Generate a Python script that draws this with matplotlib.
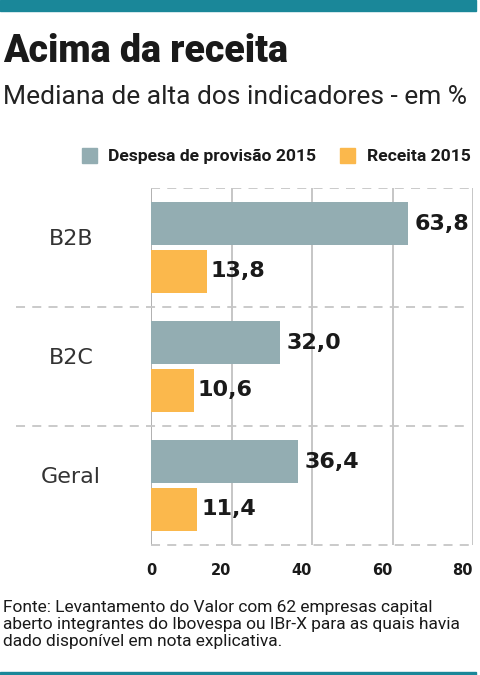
import matplotlib
matplotlib.use("Agg")
import matplotlib.pyplot as plt
import matplotlib.transforms as mtransforms
from matplotlib.patches import Rectangle

categories = ["B2B", "B2C", "Geral"]
despesa = [63.8, 32.0, 36.4]
receita = [13.8, 10.6, 11.4]
series_names = ["Despesa de provisão 2015", "Receita 2015"]
xticks = [0, 20, 40, 60, 80]

title = "Acima da receita"
subtitle = "Mediana de alta dos indicadores - em %"
source = ("Fonte: Levantamento do Valor com 62 empresas capital\n"
          "aberto integrantes do Ibovespa ou IBr-X para as quais havia\n"
          "dado disponível em nota explicativa.")

GREY = "#93adb2"
ORANGE = "#fbb84c"
TEAL = "#1a8799"
GRID = "#c6c6c6"
TXT = "#1a1a1a"
ROBOTO = ["Roboto", "DejaVu Sans"]
DJ = ["DejaVu Sans"]

W, H = 481, 675
fig = plt.figure(figsize=(W / 100, H / 100), dpi=100)

def fx(px):
    return px / W

def fy(py):
    return 1 - py / H

# teal bars
fig.patches.append(Rectangle((0, fy(11)), fx(476), 11 / H, transform=fig.transFigure,
                             color=TEAL, zorder=0))
fig.patches.append(Rectangle((0, 0), fx(476), 3 / H, transform=fig.transFigure,
                             color=TEAL, zorder=0))

fig.text(fx(3), fy(62), title, fontsize=27, fontweight="black", family=ROBOTO,
         color=TXT, va="baseline", ha="left")
fig.text(fx(3), fy(104), subtitle, fontsize=19, fontweight="normal", family=ROBOTO,
         color="#222222", va="baseline", ha="left")

# legend
legend_items = [(82, GREY, 108, series_names[0]), (340, ORANGE, 367, series_names[1])]
for sx, col, tx, lab in legend_items:
    fig.patches.append(Rectangle((fx(sx), fy(163)), 15 / W, 15 / H, transform=fig.transFigure,
                                 color=col))
    fig.text(fx(tx), fy(161), lab, fontsize=12.6, fontweight="bold", family=ROBOTO,
             color=TXT, va="baseline", ha="left")

# axes
left, right, top, bottom = 151, 473, 188, 545
ax = fig.add_axes([fx(left), fy(bottom), (right - left) / W, (bottom - top) / H])
ax.set_xlim(0, 80)
ax.set_ylim(2.5, -0.5)
for s in ax.spines.values():
    s.set_visible(False)

ypos = list(range(len(categories)))
bh = 0.36
off = 0.2
ax.barh([y - off for y in ypos], despesa, height=bh, color=GREY, zorder=3)
ax.barh([y + off for y in ypos], receita, height=bh, color=ORANGE, zorder=3)

for y, v in zip(ypos, despesa):
    ax.annotate(f"{v:.1f}".replace(".", ","), (v, y - off), xytext=(5, 0),
                textcoords="offset points", va="center", ha="left", fontsize=16,
                fontweight="bold", family=DJ, color=TXT, zorder=4)
for y, v in zip(ypos, receita):
    ax.annotate(f"{v:.1f}".replace(".", ","), (v, y + off), xytext=(3, 0),
                textcoords="offset points", va="center", ha="left", fontsize=16,
                fontweight="bold", family=DJ, color=TXT, zorder=4)

# grid
for xt in xticks:
    ax.axvline(xt, color=GRID if xt else "#b0b0b0", lw=1.4, zorder=1)
ax.axhline(-0.5, color=GRID, lw=1.3, ls=(0, (5, 4)), zorder=2)
ax.axhline(2.5, color=GRID, lw=1.3, ls=(0, (5, 4)), zorder=2, clip_on=False)
for yb in [0.5, 1.5]:
    ax.axhline(yb, xmin=-0.42, xmax=0.985, color=GRID, lw=1.3, ls=(0, (5, 4)),
               zorder=2, clip_on=False)

ax.set_yticks([])
ax.set_xticks(xticks)
ax.set_xticklabels([str(t) for t in xticks], fontsize=10.5, fontweight="bold",
                   family=DJ, color=TXT)
ax.tick_params(axis="x", length=0, pad=13)
for t, lbl in zip(xticks, ax.get_xticklabels()):
    lbl.set_ha("center" if t == 0 else "right")

trans = mtransforms.blended_transform_factory(ax.transAxes, ax.transData)
for y, c in zip(ypos, categories):
    ax.text((71 - left) / (right - left), y - 0.07, c, transform=trans, ha="center",
            va="center", fontsize=16, fontweight="normal", family=DJ,
            color="#333333")

fig.text(fx(3), fy(600), source, fontsize=12.5, family=ROBOTO, color=TXT,
         va="top", ha="left", linespacing=1.15)

fig.savefig("out.png", dpi=100, facecolor="white")
